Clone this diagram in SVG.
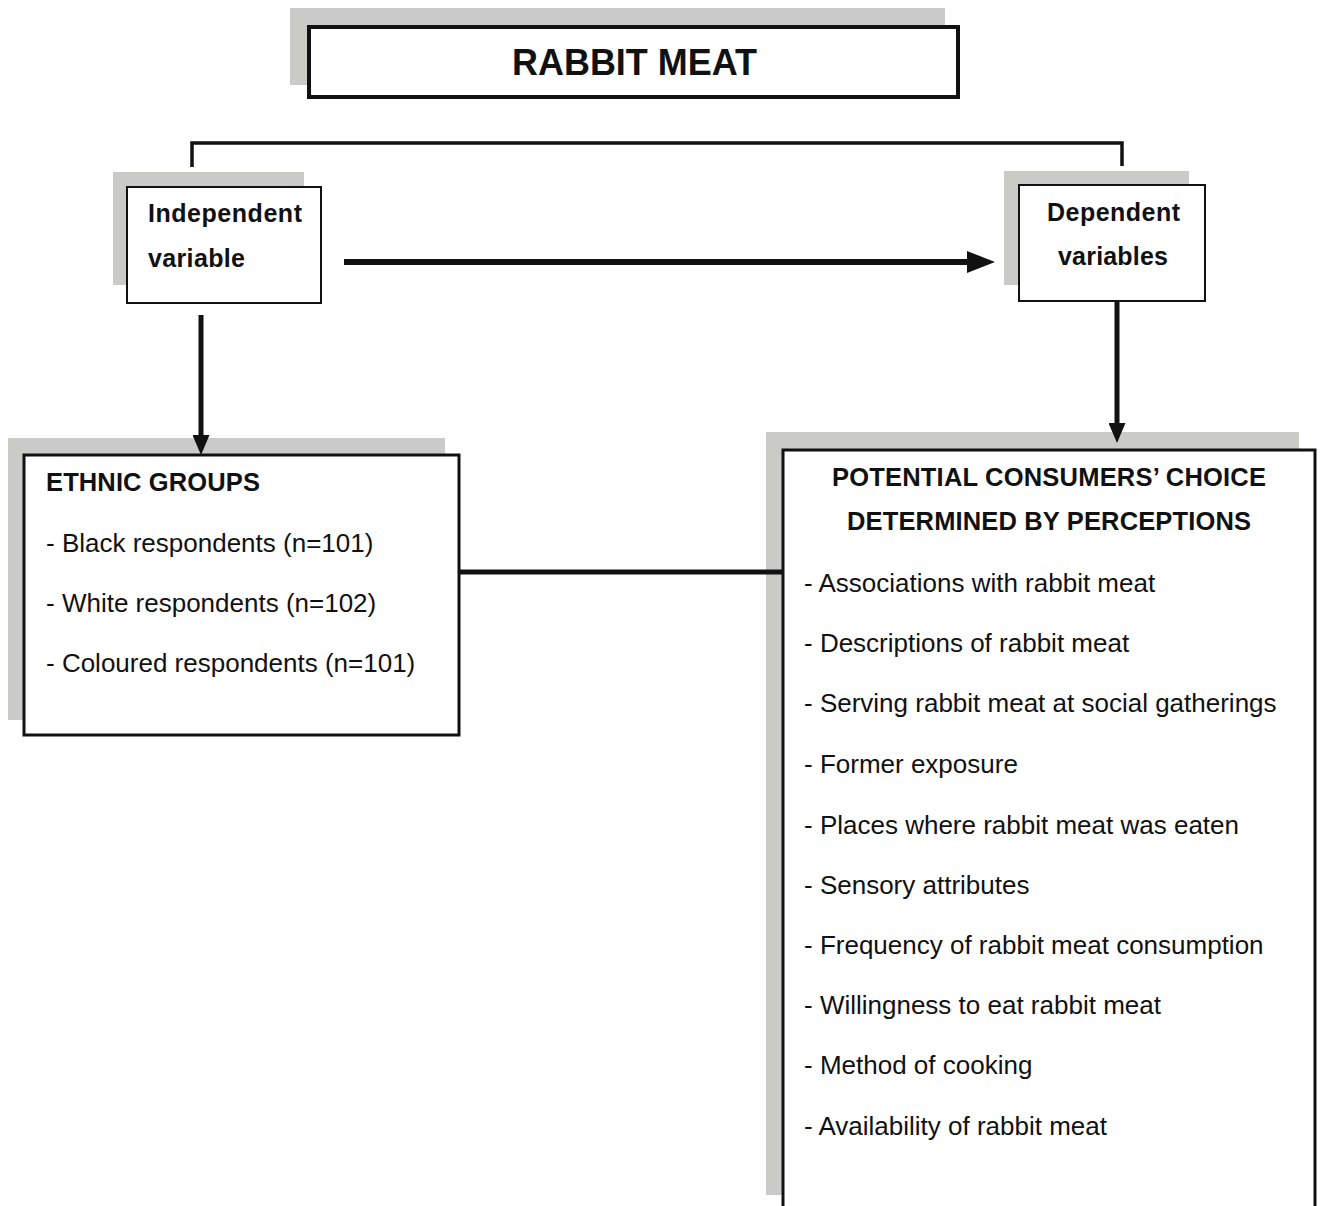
<svg xmlns="http://www.w3.org/2000/svg" width="1322" height="1206" viewBox="0 0 1322 1206">
  <style>
    .shadow { fill: #cacac6; }
    .box { fill: #ffffff; stroke: #111111; }
    .bold { font-family: "Liberation Sans", Arial, sans-serif; font-weight: bold; fill: #111111; }
    .item { font-family: "Liberation Sans", Arial, sans-serif; font-size: 26px; fill: #111111; }
    .line { fill: none; stroke: #111111; }
  </style>
  <defs>
    <marker id="headRight" markerUnits="userSpaceOnUse" markerWidth="28" markerHeight="22" refX="6" refY="11" orient="auto">
      <path d="M0,0 L28,11 L0,22 z" fill="#111111"/>
    </marker>
    <marker id="headDown" markerUnits="userSpaceOnUse" markerWidth="20" markerHeight="17" refX="4" refY="8.5" orient="auto">
      <path d="M0,0 L20,8.5 L0,17 z" fill="#111111"/>
    </marker>
  </defs>

  <rect width="1322" height="1206" fill="#ffffff"/>

  <!-- Title -->
  <g id="title">
    <rect class="shadow" x="290" y="8" width="655" height="77"/>
    <rect class="box" x="309" y="27" width="649" height="70" stroke-width="4"/>
    <text class="bold" x="512" y="75" font-size="37" textLength="245" lengthAdjust="spacingAndGlyphs">RABBIT MEAT</text>
  </g>

  <!-- Independent variable -->
  <g id="independent">
    <rect class="shadow" x="113" y="172" width="191" height="113"/>
    <rect class="box" x="127" y="187" width="194" height="116" stroke-width="2"/>
    <text class="bold" x="148" y="222" font-size="25" textLength="154">Independent</text>
    <text class="bold" x="148" y="267" font-size="25" textLength="97">variable</text>
  </g>

  <!-- Dependent variables -->
  <g id="dependent">
    <rect class="shadow" x="1004" y="171" width="185" height="114"/>
    <rect class="box" x="1019" y="185" width="186" height="116" stroke-width="2"/>
    <text class="bold" x="1047" y="221" font-size="25" textLength="133">Dependent</text>
    <text class="bold" x="1058" y="265" font-size="25" textLength="110">variables</text>
  </g>

  <!-- Ethnic groups -->
  <g id="ethnic-groups">
    <rect class="shadow" x="8" y="438" width="437" height="282"/>
    <rect class="box" x="24" y="455" width="435" height="280" stroke-width="3"/>
    <text class="bold" x="46" y="491" font-size="25.5" textLength="214">ETHNIC GROUPS</text>
    <text class="item" x="46" y="552">- Black respondents (n=101)</text>
    <text class="item" x="46" y="612">- White respondents (n=102)</text>
    <text class="item" x="46" y="672">- Coloured respondents (n=101)</text>
  </g>

  <!-- Potential consumers' choice -->
  <g id="consumer-choice">
    <rect class="shadow" x="766" y="432" width="533" height="763"/>
    <rect class="box" x="783" y="450" width="532" height="770" stroke-width="3"/>
    <text class="bold" x="832" y="486" font-size="25.5" textLength="434">POTENTIAL CONSUMERS’ CHOICE</text>
    <text class="bold" x="847" y="530" font-size="25.5" textLength="404">DETERMINED BY PERCEPTIONS</text>
    <text class="item" x="804" y="592">- Associations with rabbit meat</text>
    <text class="item" x="804" y="652">- Descriptions of rabbit meat</text>
    <text class="item" x="804" y="712">- Serving rabbit meat at social gatherings</text>
    <text class="item" x="804" y="773">- Former exposure</text>
    <text class="item" x="804" y="834">- Places where rabbit meat was eaten</text>
    <text class="item" x="804" y="894">- Sensory attributes</text>
    <text class="item" x="804" y="954">- Frequency of rabbit meat consumption</text>
    <text class="item" x="804" y="1014">- Willingness to eat rabbit meat</text>
    <text class="item" x="804" y="1074">- Method of cooking</text>
    <text class="item" x="804" y="1135">- Availability of rabbit meat</text>
  </g>

  <!-- Connectors -->
  <g id="connectors">
    <polyline class="line" points="192,167 192,143 1122,143 1122,166" stroke-width="3.5"/>
    <line class="line" x1="344" y1="262" x2="973" y2="262" stroke-width="6" marker-end="url(#headRight)"/>
    <line class="line" x1="201" y1="315" x2="201" y2="439" stroke-width="5" marker-end="url(#headDown)"/>
    <line class="line" x1="1117" y1="302" x2="1117" y2="427" stroke-width="5" marker-end="url(#headDown)"/>
    <line class="line" x1="459" y1="572" x2="783" y2="572" stroke-width="5"/>
  </g>
</svg>
